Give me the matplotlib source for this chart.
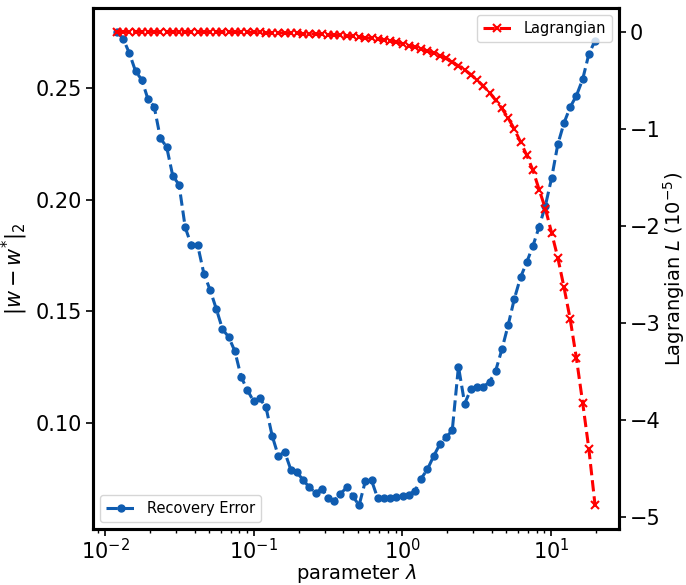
import numpy as np
import matplotlib
matplotlib.use("Agg")
import matplotlib.pyplot as plt

# regularisation sweep, log spaced
lam = np.logspace(np.log10(0.012), np.log10(19.8), 78)

# recovery error |w - w*|_2
recovery_error = [
    0.2751, 0.2720, 0.2655, 0.2574, 0.2536, 0.2449, 0.2416, 0.2274, 0.2236, 0.2105,
    0.2067, 0.1875, 0.1795, 0.1796, 0.1669, 0.1596, 0.1511, 0.1420, 0.1385, 0.1321,
    0.1207, 0.1148, 0.1098, 0.1110, 0.1071, 0.0943, 0.0852, 0.0872, 0.0792, 0.0779,
    0.0745, 0.0712, 0.0688, 0.0706, 0.0664, 0.0653, 0.0684, 0.0712, 0.0672, 0.0632,
    0.0740, 0.0744, 0.0663, 0.0663, 0.0663, 0.0668, 0.0675, 0.0680, 0.0697, 0.0752,
    0.0793, 0.0852, 0.0905, 0.0936, 0.0967, 0.1253, 0.1087, 0.1151, 0.1163, 0.1163,
    0.1183, 0.1235, 0.1330, 0.1438, 0.1556, 0.1652, 0.1720, 0.1793, 0.1879, 0.1973,
    0.2096, 0.2247, 0.2343, 0.2414, 0.2465, 0.2538, 0.2651, 0.2711,
]

# Lagrangian, in units of 1e-5
lagrangian = [
    -0.001, -0.001, -0.001, -0.001, -0.001, -0.001, -0.002, -0.002, -0.002, -0.002,
    -0.002, -0.003, -0.003, -0.003, -0.004, -0.004, -0.004, -0.005, -0.005, -0.006,
    -0.007, -0.007, -0.008, -0.009, -0.011, -0.012, -0.013, -0.015, -0.016, -0.018,
    -0.021, -0.023, -0.025, -0.029, -0.032, -0.036, -0.040, -0.045, -0.050, -0.056,
    -0.063, -0.070, -0.078, -0.086, -0.095, -0.108, -0.125, -0.144, -0.161, -0.184,
    -0.200, -0.221, -0.248, -0.277, -0.315, -0.353, -0.395, -0.443, -0.499, -0.561,
    -0.628, -0.708, -0.792, -0.891, -1.005, -1.138, -1.274, -1.431, -1.630, -1.825,
    -2.074, -2.330, -2.636, -2.966, -3.368, -3.823, -4.302, -4.882,
]

plt.rcParams["font.size"] = 15

fig = plt.figure(figsize=(6.86, 5.85), dpi=100)
ax = fig.add_axes([0.1356, 0.0957, 0.7667, 0.8906])
ax2 = ax.twinx()

ax.plot(lam, recovery_error, "--o", color="#0f5cb0", lw=2.2, ms=5, label="Recovery Error")
ax2.plot(lam, lagrangian, "--x", color="red", lw=2.2, ms=6, mew=1.5, label="Lagrangian")

ax.set_xscale("log")
ax.set_xlabel(r"parameter $\lambda$", fontsize=14, labelpad=-1)
ax.set_ylabel(r"$|w - w^{*}|_2$")
ax2.set_ylabel(r"Lagrangian $L$ $(10^{-5})$", fontsize=14, labelpad=0)

for a in (ax, ax2):
    for s in a.spines.values():
        s.set_linewidth(2.2)
    a.tick_params(which="major", length=5, width=1.2, pad=3)
    a.tick_params(which="minor", length=3, width=1)
ax.tick_params(axis="x", which="major", pad=1.5)

ax.legend(loc="lower left", fontsize=10.5)
ax2.legend(loc="upper right", fontsize=10.5)

fig.savefig("out.png", dpi=100)
